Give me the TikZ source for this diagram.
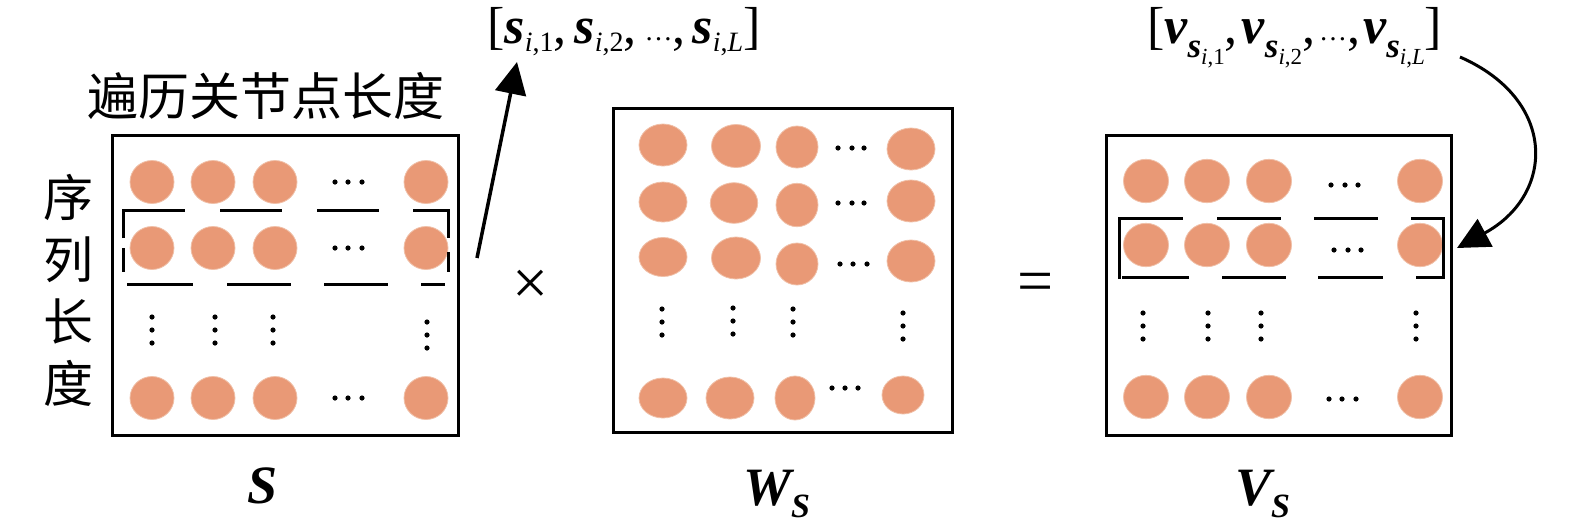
\documentclass[tikz,border=0pt]{standalone}
\usepackage{fontspec}
\setmainfont{Liberation Serif}
\newfontfamily\cjk{Noto Sans CJK SC}
\usetikzlibrary{arrows.meta}
\definecolor{ballfill}{RGB}{233,153,118}
\definecolor{balledge}{RGB}{240,192,168}
\newcommand\bsym[1]{{\bfseries\itshape #1}}
\newcommand\subsc[2]{\raisebox{#1}{\fontsize{28}{28}\selectfont #2}}
\newcommand\vsub[1]{\raisebox{-14pt}{\fontsize{35}{35}\selectfont\bsym{s}\raisebox{-7pt}{\fontsize{23}{23}\selectfont #1}}}
\tikzset{
  matbox/.style={draw, line width=3pt, inner sep=0pt},
  ball/.style={fill=ballfill, draw=balledge, line width=0.8pt},
  tinydot/.style={fill=black},
  brk/.style={line width=3pt},
  bigarrow/.style={line width=3.5pt, -{Triangle[length=32pt,width=31pt]}},
  lbl/.style={inner sep=0pt, font=\fontsize{54}{54}\selectfont},
}
\begin{document}
\begin{tikzpicture}[x=1pt,y=-1pt]
\useasboundingbox (0,0) rectangle (1575,531);

% boxes
\node[matbox, minimum width=346pt, minimum height=300pt] (S) at (285,285) {};
\node[matbox, minimum width=339pt, minimum height=324pt] (W) at (782.5,270) {};
\node[matbox, minimum width=345pt, minimum height=300pt] (V) at (1278.5,285) {};

% ---- box S balls
\foreach \x in {152,213,275,426}
  \foreach \y in {182,248,398}
    \path[ball] (\x,\y) circle[x radius=22pt, y radius=21.5pt];
\foreach \y/\d in {182/0,248/0,398/0}
  \foreach \x in {335,348,362}
    \fill[tinydot] (\x,\y) circle[radius=2.6pt];
\foreach \x/\d in {152/0,215/0,273/0}
  \foreach \y in {317,330,343}
    \fill[tinydot] (\x,\y) circle[radius=2.6pt];
\foreach \y in {322,335,348}
  \fill[tinydot] (427,\y) circle[radius=2.6pt];
% dashed frame in S
\draw[brk] (123,238) -- (123,210) -- (185,210);
\draw[brk] (220,210) -- (282,210);
\draw[brk] (317,210) -- (379,210);
\draw[brk] (413,210) -- (448,210) -- (448,238);
\draw[brk] (123,248) -- (123,272);
\draw[brk] (448,252) -- (448,272);
\draw[brk] (127,284) -- (193,284);
\draw[brk] (227,284) -- (291,284);
\draw[brk] (324,284) -- (388,284);
\draw[brk] (421,284) -- (445,284);

% ---- box W balls
\foreach \x/\y/\rx/\ry in {
  663/145/24/21, 736/146/24.5/21.5, 797/147/21/21, 911/149/24/21,
  663/202/24/20, 734/203/23.7/20.3, 797/205/21/21.7, 911/201/24/21,
  663/257/24/19.5, 736/258/24.5/21, 797/264/21/21, 911/261/24/21,
  663/398/24/20, 730/398/24/21, 795/398/20/22, 903/395/21/19}
  \path[ball] (\x,\y) circle[x radius=\rx pt, y radius=\ry pt];
\foreach \x/\y in {838/148,852/148,864/148, 838/203,852/203,864/203,
  840/264,853/264,867/264, 832/388,845/388,858/388,
  662/309,662/322,662/335, 733/308,733/321,733/334,
  793/309,793/322,793/335, 903/313,903/326,903/339}
  \fill[tinydot] (\x,\y) circle[radius=2.6pt];

% ---- box V balls
\foreach \x in {1146,1207,1269,1420}
  \foreach \y in {181,245,397}
    \path[ball] (\x,\y) circle[x radius=22.5pt, y radius=21.7pt];
\foreach \x/\y in {1331/185,1345/185,1358/185, 1334/250,1348/250,1361/250,
  1329/399,1342/399,1356/399,
  1143/313,1143/326,1143/339, 1208/313,1208/326,1208/339,
  1261/313,1261/326,1261/339, 1416/313,1416/326,1416/339}
  \fill[tinydot] (\x,\y) circle[radius=2.6pt];
% dashed frame in V
\draw[brk] (1119,279) -- (1119,218) -- (1183,218);
\draw[brk] (1217,218) -- (1281,218);
\draw[brk] (1314,218) -- (1378,218);
\draw[brk] (1411,218) -- (1443,218) -- (1443,277) -- (1416,277);
\draw[brk] (1318,277) -- (1383,277);
\draw[brk] (1222,277) -- (1286,277);
\draw[brk] (1122,277) -- (1189,277);

% ---- texts
\node[font=\cjk\fontsize{51}{51}\selectfont, inner sep=0pt] (title) at (266,96) {遍历关节点长度};
\node[font=\cjk\fontsize{50}{62}\selectfont, align=center, inner sep=0pt] (side) at (68,290) {序\\列\\长\\度};

\node[anchor=base west, inner sep=0pt, font=\fontsize{52}{54}\selectfont] (slist) at (487,43)
  {[\bsym{s}\subsc{-8pt}{\itshape i\/\upshape,1},\hspace{8pt}\bsym{s}\subsc{-8pt}{\itshape i\/\upshape,2},\hspace{8pt}\subsc{3pt}{\dots},\hspace{7pt}\bsym{s}\subsc{-8pt}{\itshape i\/\upshape,\itshape L}]};

\node[anchor=base west, inner sep=0pt, font=\fontsize{52}{54}\selectfont] (vlist) at (1147,43)
  {[\bsym{v}\vsub{\itshape i\/\upshape,1},\hspace{4pt}\bsym{v}\vsub{\itshape i\/\upshape,2},\hspace{4pt}\subsc{3pt}{\dots},\hspace{3pt}\bsym{v}\vsub{\itshape i\/\upshape,\itshape L}]};

\node[inner sep=0pt, font=\fontsize{64}{64}\selectfont] (times) at (531,287) {×};
\node[inner sep=0pt, font=\fontsize{64}{64}\selectfont] (eq) at (1036,288) {=};

\node[lbl, anchor=base] (lS) at (263,503) {\bsym{S}};
\node[lbl, anchor=base west] (lW) at (743,505) {\bsym{W}\raisebox{-12pt}{\fontsize{34}{34}\selectfont\bsym{S}}};
\node[lbl, anchor=base west] (lV) at (1235,505) {\bsym{V}\raisebox{-12pt}{\fontsize{34}{34}\selectfont\bsym{S}}};

% ---- arrows
\coordinate (a1s) at (477,258);
\coordinate (a1e) at (517,62);
\draw[bigarrow] (a1s) -- (a1e);
\coordinate (a2s) at (1460,57);
\coordinate (a2e) at (1457,248);
\draw[bigarrow, line width=3pt] (a2s) .. controls (1558,100) and (1555,195) .. (a2e);
\end{tikzpicture}
\end{document}
